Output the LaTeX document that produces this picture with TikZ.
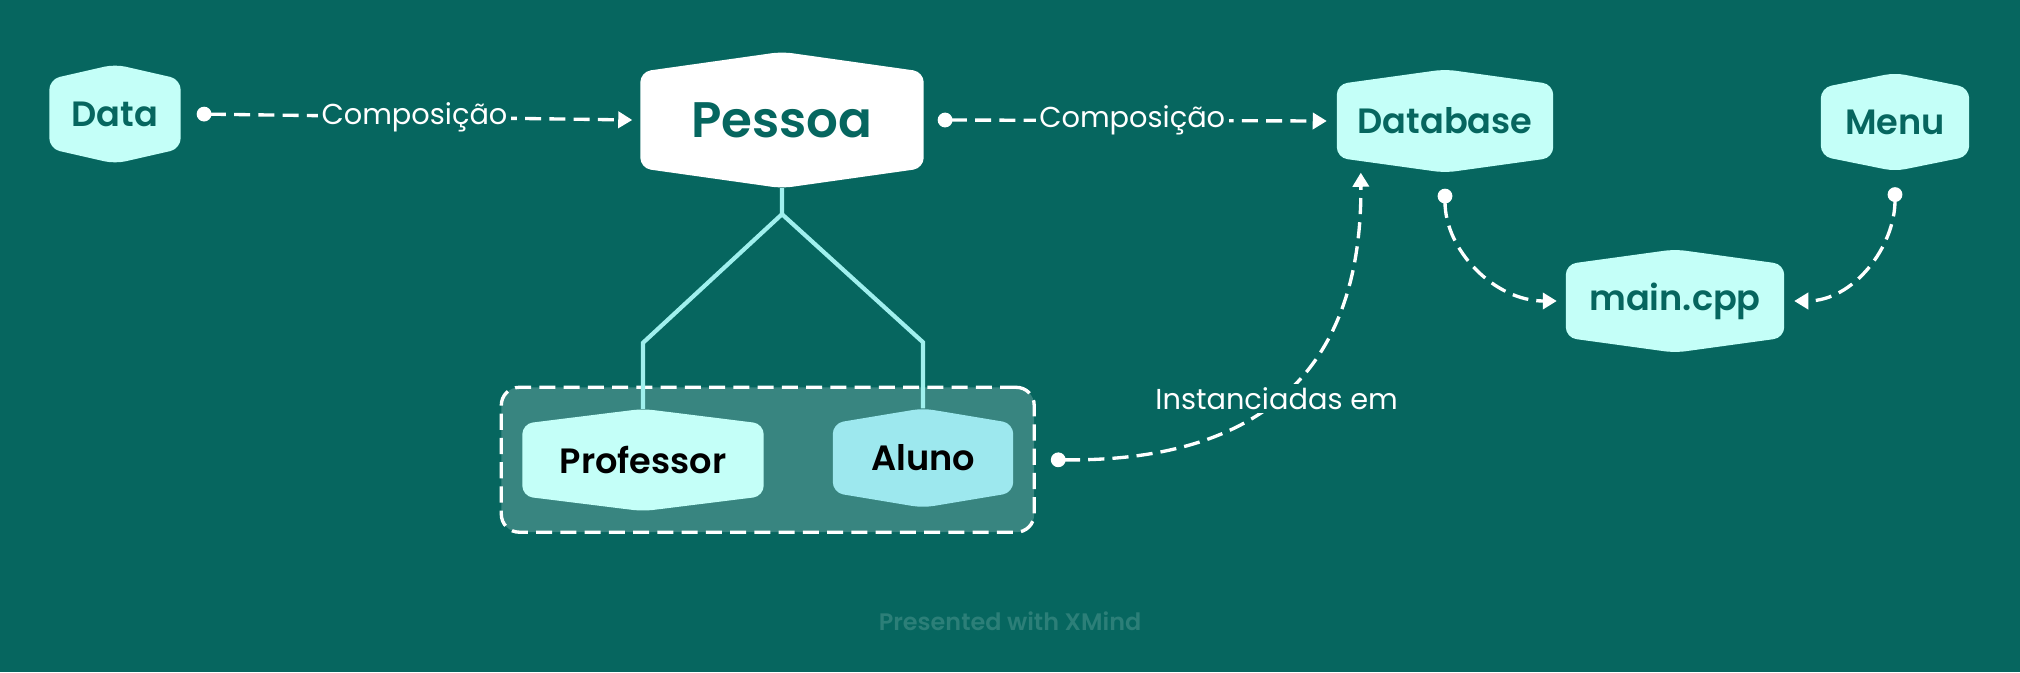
\documentclass[tikz,border=0pt]{standalone}
\usepackage{fontspec}
\setmainfont{Poppins}[BoldFont={Poppins SemiBold}]
\usetikzlibrary{arrows.meta,backgrounds,fit}
\definecolor{fundo}{HTML}{06665F}
\definecolor{ciano}{HTML}{C4FFF8}
\definecolor{aluno}{HTML}{9DE8EE}
\definecolor{grupo}{HTML}{388580}
\definecolor{ramo}{HTML}{A0F0EE}
\definecolor{marca}{HTML}{2C7F78}
\tikzset{
  topico/.style={inner sep=0pt, text=fundo, font=\bfseries\fontsize{10}{12}\selectfont},
  seta/.style={white, line width=0.95pt, dash pattern=on 4.6pt off 2.3pt,
    {Circle[length=4.2pt]}-{Triangle[length=4pt,width=4.6pt]}},
  rotulo/.style={fill=fundo, inner sep=1pt, text=white, font=\fontsize{8.2}{10}\selectfont}
}
\begin{document}
\begin{tikzpicture}
\useasboundingbox (0,0) rectangle (20.2,6.72);
\node[topico, minimum width=1.30cm, minimum height=0.98cm] (data) at (1.15,5.58) {Data};
\node[topico, minimum width=2.82cm, minimum height=1.35cm, font=\bfseries\fontsize{14.2}{16}\selectfont] (pessoa) at (7.82,5.52) {Pessoa};
\node[topico, minimum width=2.15cm, minimum height=1.02cm] (database) at (14.45,5.51) {Database};
\node[topico, minimum width=1.47cm, minimum height=0.97cm] (menu) at (18.95,5.50) {Menu};
\node[topico, minimum width=2.17cm, minimum height=1.02cm] (maincpp) at (16.75,3.71) {main.cpp};
\node[topico, minimum width=2.40cm, minimum height=1.01cm, text=black] (prof) at (6.43,2.12) {Professor};
\node[topico, minimum width=1.79cm, minimum height=0.98cm, text=black] (aluno) at (9.23,2.14) {Aluno};
\begin{scope}[on background layer]
\fill[fundo] (0,0) rectangle (20.2,6.72);
\node[fit=(prof)(aluno), inner sep=0.21cm, rounded corners=0.18cm, fill=grupo, draw=white, line width=0.95pt, dash pattern=on 4.6pt off 2.3pt] (caixa) {};
\foreach \n/\d/\c in {data/0.15/ciano, pessoa/0.20/white, database/0.15/ciano, menu/0.15/ciano, maincpp/0.15/ciano, prof/0.15/ciano, aluno/0.15/aluno}
  \fill[\c, rounded corners=3pt] (\n.north) -- ([yshift=-\d cm]\n.north east) -- ([yshift=\d cm]\n.south east) -- (\n.south) -- ([yshift=\d cm]\n.south west) -- ([yshift=-\d cm]\n.north west) -- cycle;
\end{scope}
% heranca
\coordinate (bifurca) at ([yshift=-0.26cm]pessoa.south);
\draw[ramo, line width=1.2pt] (pessoa.south) -- (bifurca) -- ([yshift=0.66cm]prof.north) -- (prof.north);
\draw[ramo, line width=1.2pt] (bifurca) -- ([yshift=0.66cm]aluno.north) -- (aluno.north);
% composicao
\draw[seta] ([xshift=0.16cm]data.east) -- ([xshift=-0.08cm]pessoa.west) node[midway, rotulo]{Composição};
\draw[seta] ([xshift=0.14cm]pessoa.east) -- ([xshift=-0.10cm]database.west) node[midway, rotulo]{Composição};
\draw[seta] ([yshift=-0.16cm]database.south) to[out=270, in=180] ([xshift=-0.09cm]maincpp.west);
\draw[seta] ([yshift=-0.16cm]menu.south) to[out=270, in=0] ([xshift=0.10cm]maincpp.east);
\draw[seta] ([xshift=0.15cm]caixa.east) .. controls (12.8,2.10) and (13.62,3.2) .. ([xshift=0.24cm]database.south west) node[pos=0.45, rotulo]{Instanciadas em};
\node[text=marca, font=\bfseries\fontsize{6.8}{8}\selectfont] (xmind) at (10.10,0.51) {Presented with XMind};
\end{tikzpicture}
\end{document}
